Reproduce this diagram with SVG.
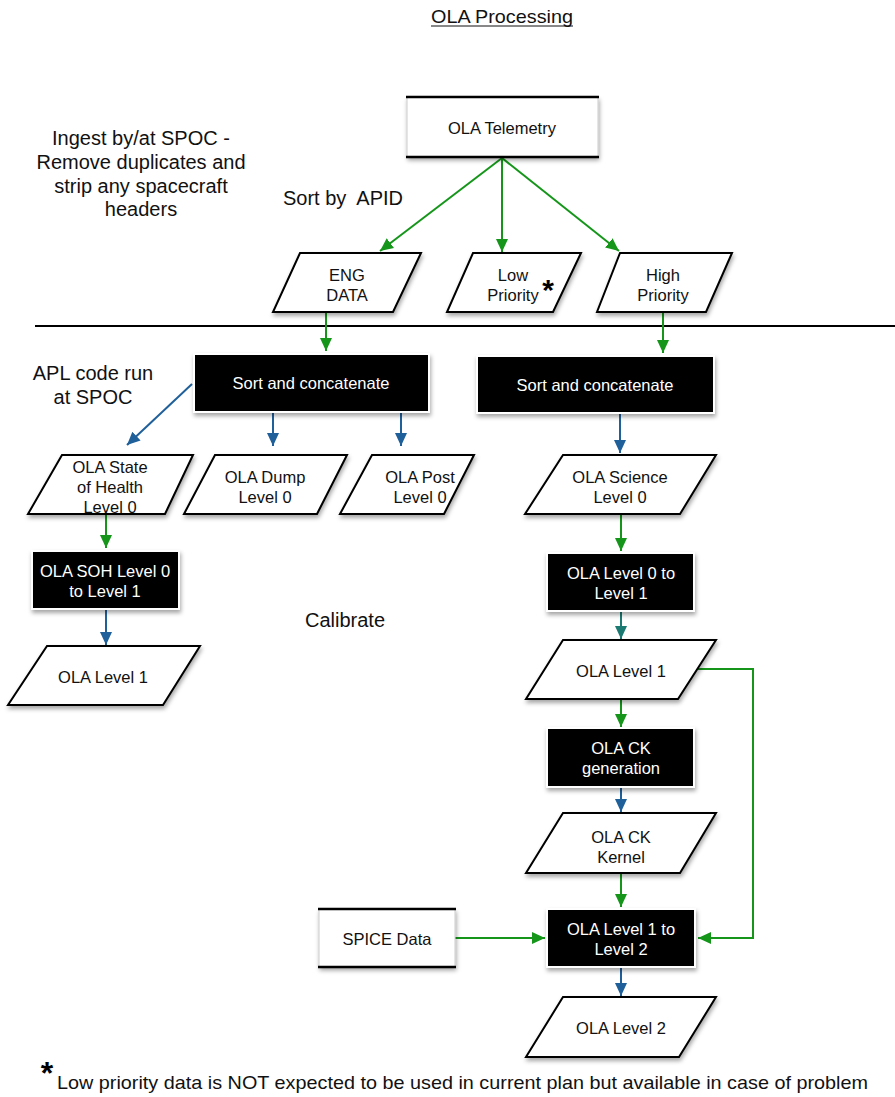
<svg xmlns="http://www.w3.org/2000/svg" width="895" height="1097" viewBox="0 0 895 1097">
<defs>
  <filter id="sh" x="-10%" y="-10%" width="130%" height="140%">
    <feDropShadow dx="1" dy="3" stdDeviation="2" flood-color="#000" flood-opacity="0.35"/>
  </filter>
  <marker id="ag" markerUnits="userSpaceOnUse" markerWidth="14" markerHeight="14" viewBox="0 0 14 14" refX="13" refY="7" orient="auto">
    <path d="M0,1 L13,7 L0,13 Z" fill="#15961a"/>
  </marker>
  <marker id="ab" markerUnits="userSpaceOnUse" markerWidth="14" markerHeight="14" viewBox="0 0 14 14" refX="13" refY="7" orient="auto">
    <path d="M0,1 L13,7 L0,13 Z" fill="#1f5f9a"/>
  </marker>
  <marker id="at" markerUnits="userSpaceOnUse" markerWidth="14" markerHeight="14" viewBox="0 0 14 14" refX="13" refY="7" orient="auto">
    <path d="M0,1 L13,7 L0,13 Z" fill="#1b7a72"/>
  </marker>
</defs>
<style>
  text { font-family: "Liberation Sans", Arial, sans-serif; }
  .lbl { font-size: 16.5px; fill: #111; text-anchor: middle; }
  .wl { font-size: 16.5px; fill: #fff; text-anchor: middle; }
  .big { font-size: 20px; fill: #111; text-anchor: middle; }
  .para { fill: #fff; stroke: #000; stroke-width: 2; filter: url(#sh); }
  .proc { fill: #000; stroke: #fff; stroke-width: 2; filter: url(#sh); }
  .g { stroke: #15961a; stroke-width: 2; fill: none; marker-end: url(#ag); }
  .b { stroke: #1f5f9a; stroke-width: 2; fill: none; marker-end: url(#ab); }
  .t { stroke: #1b7a72; stroke-width: 2; fill: none; marker-end: url(#at); }
</style>

<g id="title">
  <text x="502" y="23" class="big" style="font-size:19px" textLength="142" lengthAdjust="spacingAndGlyphs">OLA Processing</text>
  <line x1="431" y1="26" x2="573" y2="26" stroke="#111" stroke-width="1"/>
</g>

<g id="notes">
  <text class="big"><tspan x="141" y="145">Ingest by/at SPOC -</tspan><tspan x="141" y="169">Remove duplicates and</tspan><tspan x="141" y="193">strip any spacecraft</tspan><tspan x="141" y="216">headers</tspan></text>
  <text x="283" y="205" font-size="20" fill="#111" style="white-space:pre" xml:space="preserve">Sort by  APID</text>
  <text class="big"><tspan x="93" y="380">APL code run</tspan><tspan x="93" y="404">at SPOC</tspan></text>
  <text x="345" y="627" class="big">Calibrate</text>
  <line x1="35" y1="326" x2="895" y2="326" stroke="#000" stroke-width="2"/>
</g>

<g id="connectors">
  <line x1="502" y1="158" x2="380" y2="251" class="g"/>
  <line x1="502" y1="158" x2="502" y2="252" class="g"/>
  <line x1="502" y1="158" x2="619" y2="251" class="g"/>
  <line x1="326" y1="313" x2="326" y2="351" class="g"/>
  <line x1="663" y1="313" x2="663" y2="353" class="g"/>
  <line x1="192" y1="384" x2="127" y2="445" class="b"/>
  <line x1="273" y1="413" x2="273" y2="446" class="b"/>
  <line x1="401" y1="413" x2="401" y2="446" class="b"/>
  <line x1="620" y1="414" x2="620" y2="453" class="b"/>
  <line x1="106" y1="515" x2="106" y2="548" class="g"/>
  <line x1="106" y1="610" x2="106" y2="645" class="b"/>
  <line x1="621" y1="515" x2="621" y2="551" class="g"/>
  <line x1="621" y1="612" x2="621" y2="639" class="t"/>
  <line x1="621" y1="700" x2="621" y2="727" class="g"/>
  <line x1="621" y1="788" x2="621" y2="812" class="b"/>
  <line x1="621" y1="874" x2="621" y2="907" class="g"/>
  <line x1="455" y1="938" x2="545" y2="938" class="g"/>
  <polyline points="698,669 753,669 753,938 698,938" class="g"/>
  <line x1="621" y1="968" x2="621" y2="996" class="b"/>
</g>

<g id="n-telemetry">
  <rect x="407" y="97" width="191" height="60" fill="#fff" stroke="#ccc" stroke-width="1" filter="url(#sh)"/>
  <line x1="406" y1="97" x2="599" y2="97" stroke="#000" stroke-width="2.5"/>
  <line x1="406" y1="157" x2="599" y2="157" stroke="#000" stroke-width="2.5"/>
  <text x="502" y="134" class="lbl">OLA Telemetry</text>
</g>

<g id="n-eng">
  <polygon points="300,253 421,253 393,312 273,312" class="para"/>
  <text class="lbl"><tspan x="347" y="281">ENG</tspan><tspan x="347" y="301">DATA</tspan></text>
</g>

<g id="n-low">
  <polygon points="473,253 581,253 553,312 447,312" class="para"/>
  <text class="lbl"><tspan x="513" y="281">Low</tspan><tspan x="513" y="301">Priority</tspan></text>
  <text x="548" y="300" font-size="30" fill="#000" text-anchor="middle" font-weight="bold">*</text>
</g>

<g id="n-high">
  <polygon points="620,253 732,253 706,312 597,312" class="para"/>
  <text class="lbl"><tspan x="663" y="281">High</tspan><tspan x="663" y="301">Priority</tspan></text>
</g>

<g id="n-sort1">
  <rect x="194" y="354" width="235" height="58" class="proc"/>
  <text x="311" y="389" class="wl">Sort and concatenate</text>
</g>

<g id="n-sort2">
  <rect x="477" y="356" width="237" height="57" class="proc"/>
  <text x="595" y="391" class="wl">Sort and concatenate</text>
</g>

<g id="n-soh0">
  <polygon points="62,455 193,455 165,514 28,514" class="para"/>
  <text class="lbl"><tspan x="110" y="473">OLA State</tspan><tspan x="110" y="493">of Health</tspan><tspan x="110" y="513">Level 0</tspan></text>
</g>

<g id="n-dump">
  <polygon points="215,455 347,455 317,514 184,514" class="para"/>
  <text class="lbl"><tspan x="265" y="483">OLA Dump</tspan><tspan x="265" y="503">Level 0</tspan></text>
</g>

<g id="n-post">
  <polygon points="372,455 474,455 444,514 340,514" class="para"/>
  <text class="lbl"><tspan x="420" y="483">OLA Post</tspan><tspan x="420" y="503">Level 0</tspan></text>
</g>

<g id="n-sci0">
  <polygon points="563,455 716,455 680,514 525,514" class="para"/>
  <text class="lbl"><tspan x="620" y="483">OLA Science</tspan><tspan x="620" y="503">Level 0</tspan></text>
</g>

<g id="n-sohproc">
  <rect x="32" y="551" width="147" height="58" class="proc"/>
  <text class="wl"><tspan x="105" y="577">OLA SOH Level 0</tspan><tspan x="105" y="597">to Level 1</tspan></text>
</g>

<g id="n-l1left">
  <polygon points="47,646 200,646 163,705 8,705" class="para"/>
  <text x="103" y="683" class="lbl">OLA Level 1</text>
</g>

<g id="n-l0to1">
  <rect x="547" y="553" width="147" height="58" class="proc"/>
  <text class="wl"><tspan x="621" y="579">OLA Level 0 to</tspan><tspan x="621" y="599">Level 1</tspan></text>
</g>

<g id="n-l1right">
  <polygon points="563,640 716,640 678,699 526,699" class="para"/>
  <text x="621" y="677" class="lbl">OLA Level 1</text>
</g>

<g id="n-ckgen">
  <rect x="547" y="728" width="147" height="59" class="proc"/>
  <text class="wl"><tspan x="621" y="754">OLA CK</tspan><tspan x="621" y="774">generation</tspan></text>
</g>

<g id="n-ckkernel">
  <polygon points="563,813 716,813 680,873 526,873" class="para"/>
  <text class="lbl"><tspan x="621" y="843">OLA CK</tspan><tspan x="621" y="863">Kernel</tspan></text>
</g>

<g id="n-spice">
  <rect x="319" y="909" width="136" height="58" fill="#fff" stroke="#ccc" stroke-width="1" filter="url(#sh)"/>
  <line x1="318" y1="909" x2="456" y2="909" stroke="#000" stroke-width="2.5"/>
  <line x1="318" y1="967" x2="456" y2="967" stroke="#000" stroke-width="2.5"/>
  <text x="387" y="945" class="lbl">SPICE Data</text>
</g>

<g id="n-l1to2">
  <rect x="547" y="909" width="148" height="58" class="proc"/>
  <text class="wl"><tspan x="621" y="935">OLA Level 1 to</tspan><tspan x="621" y="955">Level 2</tspan></text>
</g>

<g id="n-l2">
  <polygon points="563,997 716,997 679,1057 526,1057" class="para"/>
  <text x="621" y="1034" class="lbl">OLA Level 2</text>
</g>

<g id="footnote">
  <text x="47" y="1084" font-size="32" fill="#000" text-anchor="middle" font-weight="bold">*</text>
  <text x="57" y="1089" font-size="19" fill="#111" textLength="811" lengthAdjust="spacingAndGlyphs">Low priority data is NOT expected to be used in current plan but available in case of problem</text>
</g>
</svg>
